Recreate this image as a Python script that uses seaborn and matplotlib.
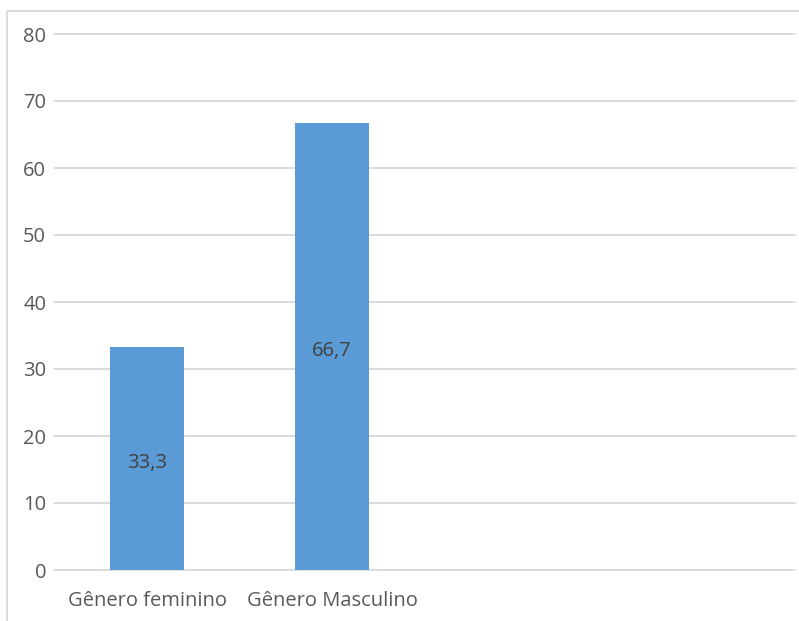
import matplotlib
matplotlib.use("Agg")
import matplotlib.pyplot as plt
import seaborn as sns
import pandas as pd
from matplotlib.patches import Rectangle

categories = ["Gênero feminino", "Gênero Masculino"]
values = [33.3, 66.7]
value_labels = ["33,3", "66,7"]
yticks = [0, 10, 20, 30, 40, 50, 60, 70, 80]

sns.set_theme(style="white")
plt.rcParams["font.family"] = ["Open Sans", "DejaVu Sans"]

W, H = 799, 621
fig = plt.figure(figsize=(W / 100, H / 100), dpi=100)
fig.patch.set_facecolor("white")
ax = fig.add_axes([54.5 / W, (H - 570) / H, 740 / W, (570 - 34) / H])

df = pd.DataFrame({"cat": categories, "val": values})
sns.barplot(data=df, x="cat", y="val", color="#5B9BD5", width=0.4,
            saturation=1, linewidth=0, ax=ax, zorder=3)
ax.set_xlim(-0.5, 3.5)
ax.set_ylim(0, 80)
ax.set_yticks(yticks)
ax.set_yticklabels([str(t) for t in yticks])
ax.set_xlabel("")
ax.set_ylabel("")
for s in ax.spines.values():
    s.set_visible(False)
ax.grid(axis="y", color="#D9D9D9", linewidth=1.3, zorder=0)
ax.grid(axis="x", visible=False)
for gl in ax.get_ygridlines():
    gl.set_clip_on(False)
ax.tick_params(axis="both", length=0, labelsize=14.5, labelcolor="#595959")
ax.tick_params(axis="y", pad=6)
ax.tick_params(axis="x", pad=15)

for i, (v, lab) in enumerate(zip(values, value_labels)):
    ax.annotate(lab, xy=(i, v / 2), xytext=(0, -3), textcoords="offset points",
                ha="center", va="center", fontsize=14.5,
                color="#404040", zorder=4)

fig.patches.append(Rectangle((7 / W, -0.05), 1.0, (H - 10.5) / H + 0.05,
                             transform=fig.transFigure, fill=False,
                             edgecolor="#D9D9D9", linewidth=1.3))

fig.savefig("out.png", dpi=100)
